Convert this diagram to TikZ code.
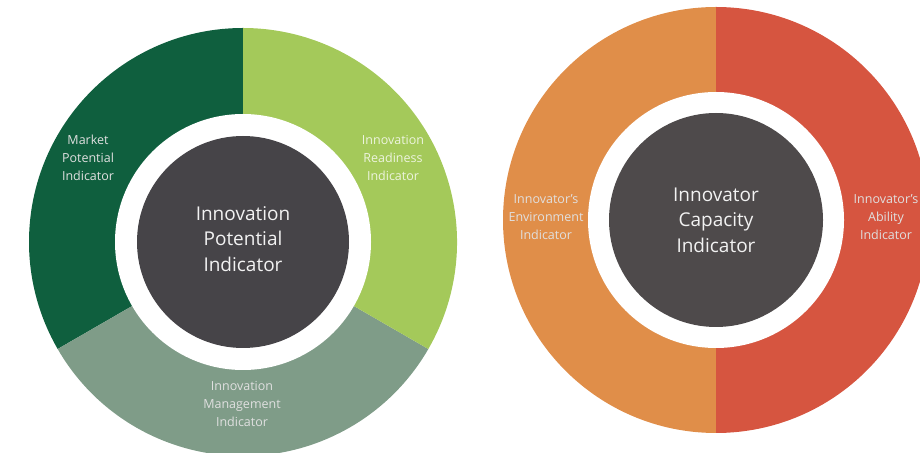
\documentclass[tikz,border=0pt]{standalone}
\usepackage{fontspec}
\setmainfont{Open Sans}
\definecolor{marketgreen}{HTML}{0F5F3E}
\definecolor{readygreen}{HTML}{A4C95A}
\definecolor{mgmtgreen}{HTML}{7F9C88}
\definecolor{envorange}{HTML}{E08E49}
\definecolor{abilityred}{HTML}{D65540}
\definecolor{coregrey}{HTML}{464448}
\definecolor{capgrey}{HTML}{4E4A4B}
\begin{document}
\begin{tikzpicture}[x=1pt,y=1pt,
  sidetext/.style={align=center,text=white!88!black,font=\fontsize{12.5}{18}\selectfont},
  coretext/.style={align=center,text=white!95!black,font=\fontsize{19}{25.5}\selectfont}]
\useasboundingbox (0,0) rectangle (920,452);
% left ring
\fill[marketgreen] (243,210) -- +(90:214) arc[start angle=90,end angle=210,radius=214] -- cycle;
\fill[mgmtgreen] (243,210) -- +(210:214) arc[start angle=210,end angle=330,radius=214] -- cycle;
\fill[readygreen] (243,210) -- +(330:214) arc[start angle=330,end angle=450,radius=214] -- cycle;
\fill[white] (243,210) circle[radius=128];
\fill[coregrey] (243,210) circle[radius=106];
% right ring
\fill[envorange] (716,232) -- +(90:213) arc[start angle=90,end angle=270,radius=213] -- cycle;
\fill[abilityred] (716,232) -- +(270:213) arc[start angle=270,end angle=450,radius=213] -- cycle;
\fill[white] (716,232) circle[radius=128];
\fill[capgrey] (716,232) circle[radius=107];
\node[sidetext] (market) at (88,294) {Market\\Potential\\Indicator};
\node[sidetext,text=white!80!readygreen] (readiness) at (393,294) {Innovation\\Readiness\\Indicator};
\node[sidetext] (management) at (242,48) {Innovation\\Management\\Indicator};
\node[coretext] (potential) at (243,213) {Innovation\\Potential\\Indicator};
\node[sidetext] (environment) at (546,235) {Innovator's\\Environment\\Indicator};
\node[sidetext] (ability) at (886,235) {Innovator's\\Ability\\Indicator};
\node[coretext] (capacity) at (716,232) {Innovator\\Capacity\\Indicator};
\end{tikzpicture}
\end{document}
